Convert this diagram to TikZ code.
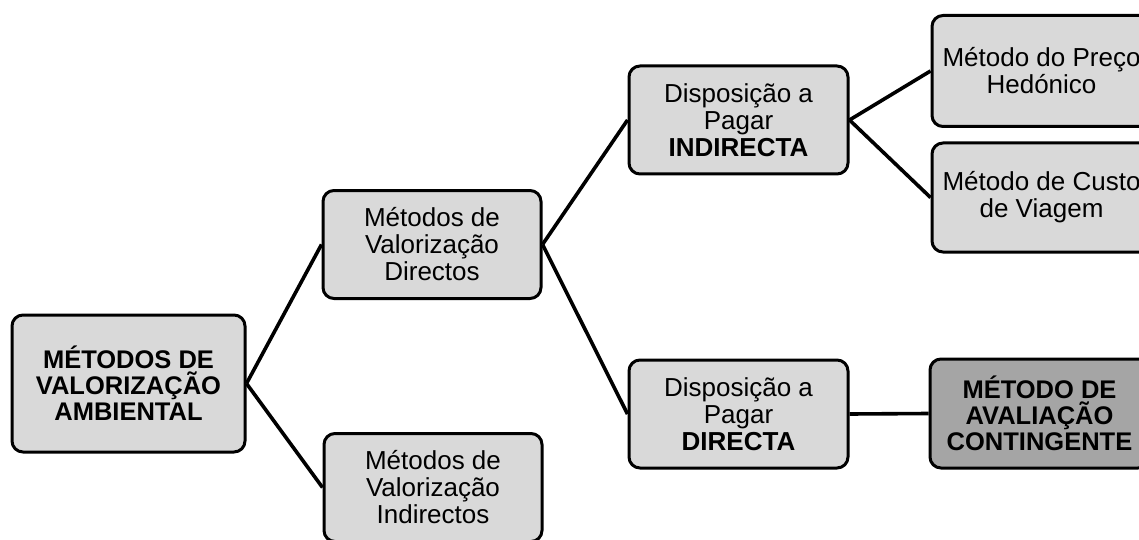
\documentclass[tikz,border=0pt]{standalone}
\usepackage{fontspec}
\setmainfont{Liberation Sans}
\definecolor{boxlight}{HTML}{D9D9D9}
\definecolor{boxdark}{HTML}{A5A5A5}
\begin{document}
\begin{tikzpicture}[x=1pt,y=-1pt,
  box/.style={draw=black, line width=3pt, rounded corners=11pt, fill=boxlight,
    align=center, inner sep=0pt, minimum width=218pt, minimum height=108pt,
    font=\fontsize{26}{27}\selectfont},
  boldbox/.style={box, font=\fontsize{25.5}{26}\selectfont\bfseries},
  link/.style={line width=3.6pt}]
\useasboundingbox (0,0) rectangle (1139,540);
\clip (0,0) rectangle (1139,540);
\node[boldbox, minimum width=233pt, minimum height=137pt] (root) at (128.5,383.5)
  {MÉTODOS DE\\VALORIZAÇÃO\\AMBIENTAL};
\node[box] (dir) at (432,244.5) {Métodos de\\Valorização\\Directos};
\node[box] (ind) at (433,487.5) {Métodos de\\Valorização\\Indirectos};
\node[box, minimum width=219pt] (dapi) at (738.5,120) {Disposição a\\Pagar\\\textbf{INDIRECTA}};
\node[box, minimum width=219pt] (dapd) at (738.5,414) {Disposição a\\Pagar\\\textbf{DIRECTA}};
\node[box, minimum width=219pt, minimum height=111pt] (hed) at (1041.5,71) {Método do Preço\\Hedónico};
\node[box, minimum width=219pt, minimum height=109pt] (cust) at (1041.5,197.5) {Método de Custo\\de Viagem};
\node[boldbox, fill=boxdark, minimum width=219pt, minimum height=109pt] (cont) at (1039.5,413.5)
  {MÉTODO DE\\AVALIAÇÃO\\CONTINGENTE};
\draw[link] (root.east) -- (dir.west);
\draw[link] (root.east) -- (ind.west);
\draw[link] (dir.east) -- (dapi.west);
\draw[link] (dir.east) -- (dapd.west);
\draw[link] (dapi.east) -- (hed.west);
\draw[link] (dapi.east) -- (cust.west);
\draw[link] (dapd.east) -- (cont.west);
\end{tikzpicture}
\end{document}
